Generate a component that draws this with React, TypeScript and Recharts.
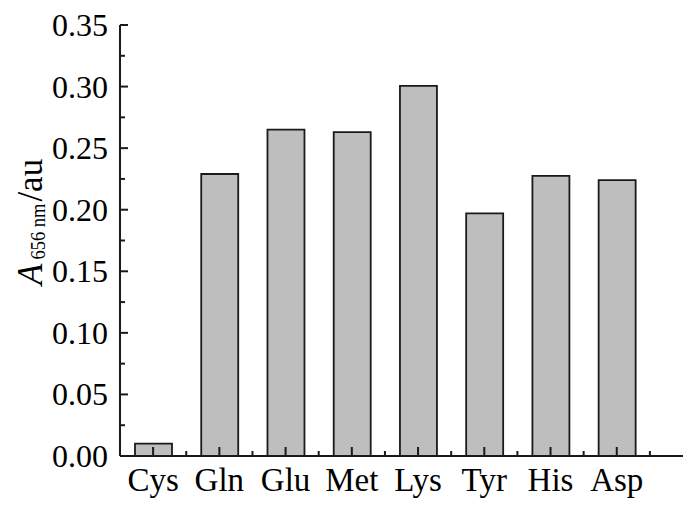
import React from "react";
import { BarChart, Bar, XAxis, YAxis, Customized } from "recharts";

const categories = ["Cys", "Gln", "Glu", "Met", "Lys", "Tyr", "His", "Asp"];
const absorbance = [0.01, 0.229, 0.265, 0.263, 0.3005, 0.197, 0.2275, 0.224];
const yMajorTicks = [0, 0.05, 0.1, 0.15, 0.2, 0.25, 0.3, 0.35];
const yMinorTicks = [0.025, 0.075, 0.125, 0.175, 0.225, 0.275, 0.325];
const xMajorTicks = [1, 2, 3, 4, 5, 6, 7, 8];
const xMinorTicks = [1.5, 2.5, 3.5, 4.5, 5.5, 6.5, 7.5, 8.5];

const data = categories.map((name, i) => ({ x: i + 1, name, value: absorbance[i] }));
const xAllTicks = [...xMajorTicks, ...xMinorTicks].sort((a, b) => a - b);
const yAllTicks = [...yMajorTicks, ...yMinorTicks].sort((a, b) => a - b);

const FONT = "'Liberation Serif', 'Times New Roman', serif";
const AXIS = "#1a1a1a";

const XTick = (props: any) => {
  const { x, y, payload } = props;
  const v = Number(payload.value);
  const major = xMajorTicks.includes(v);
  return (
    <g>
      <line x1={x} x2={x} y1={y} y2={y - (major ? 9 : 5)} stroke={AXIS} strokeWidth={2} />
      {major && (
        <text x={x} y={y + 35} textAnchor="middle" fontFamily={FONT} fontSize={33} fill="#000">
          {categories[v - 1]}
        </text>
      )}
    </g>
  );
};

const YTick = (props: any) => {
  const { x, y, payload } = props;
  const v = Number(payload.value);
  const major = yMajorTicks.some((t) => Math.abs(t - v) < 1e-9);
  return (
    <g>
      <line x1={x} x2={x + (major ? 8 : 5)} y1={y} y2={y} stroke={AXIS} strokeWidth={2} />
      {major && (
        <text x={x - 12} y={y + 11} textAnchor="end" fontFamily={FONT} fontSize={32} fill="#000">
          {v.toFixed(2)}
        </text>
      )}
    </g>
  );
};

const YTitle = () => (
  <text
    transform="translate(42, 285) rotate(-90)"
    textAnchor="start"
    fontFamily={FONT}
    fontSize={35}
    fill="#000"
  >
    <tspan fontStyle="italic">A</tspan>
    <tspan fontSize={22} dx={4} dy={3} textLength={56} lengthAdjust="spacingAndGlyphs">
      656 nm
    </tspan>
    <tspan dx={2} dy={-3}>/au</tspan>
  </text>
);

export default function App() {
  return (
    <div style={{ position: "absolute", left: 0, top: 0, background: "#fff" }}>
      <BarChart
        width={700}
        height={511}
        data={data}
        margin={{ top: 25, right: 17, bottom: 0, left: 0 }}
        barSize={37}
      >
        <XAxis
          xAxisId="x"
          dataKey="x"
          type="number"
          domain={[0.5, 9]}
          ticks={xAllTicks}
          allowDataOverflow
          height={55}
          tickSize={0}
          tickMargin={0}
          tickLine={false}
          stroke={AXIS}
          strokeWidth={2}
          tick={<XTick />}
          interval={0}
        />
        <XAxis
          xAxisId="xt"
          orientation="top"
          dataKey="x"
          type="number"
          domain={[0.5, 9]}
          height={0}
          tick={false}
          tickLine={false}
          stroke={AXIS}
          strokeWidth={2}
        />
        <YAxis
          yAxisId="y"
          domain={[0, 0.35]}
          ticks={yAllTicks}
          allowDataOverflow
          width={120}
          tickSize={0}
          tickMargin={0}
          tickLine={false}
          stroke={AXIS}
          strokeWidth={2}
          tick={<YTick />}
          interval={0}
        />
        <YAxis
          yAxisId="yr"
          orientation="right"
          domain={[0, 0.35]}
          width={0}
          tick={false}
          tickLine={false}
          stroke={AXIS}
          strokeWidth={2}
        />
        <Bar
          xAxisId="x"
          yAxisId="y"
          dataKey="value"
          fill="#bebebe"
          stroke="#1a1a1a"
          strokeWidth={1.8}
          isAnimationActive={false}
        />
        <Customized component={YTitle} />
      </BarChart>
    </div>
  );
}
